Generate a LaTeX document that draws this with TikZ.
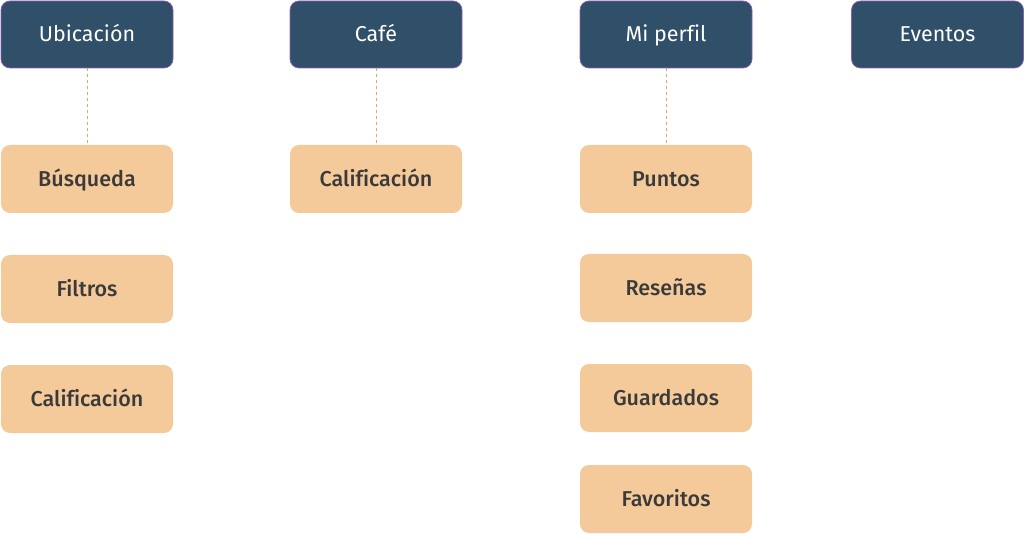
\documentclass[tikz,border=0pt]{standalone}
\usepackage{fontspec}
\setmainfont{Open Sans}
\newfontfamily\subfont{Fira Sans}[UprightFont=* Medium, Ligatures=NoCommon]
\newfontfamily\hdrfont{Fira Sans}[Ligatures=NoCommon]
\definecolor{hdr}{HTML}{304F68}
\definecolor{hdrline}{HTML}{8E5CB8}
\definecolor{org}{HTML}{F4CA9A}
\definecolor{dash}{HTML}{E3A46E}
\definecolor{txt}{HTML}{3A3A3A}
\tikzset{
  boxtext/.style={text height=16.5pt, text depth=1.5pt},
  hdrbox/.style={rectangle, rounded corners=9pt, fill=hdr, draw=hdrline, line width=0.7pt, minimum width=172pt, minimum height=67pt, text=white, inner sep=0pt, boxtext, font=\hdrfont\fontsize{21.5}{25}\selectfont},
  subbox/.style={rectangle, rounded corners=9pt, fill=org, draw=none, minimum width=172pt, minimum height=68pt, text=txt, inner sep=0pt, boxtext, font=\subfont\fontsize{21.5}{25}\selectfont},
  link/.style={draw=dash, dashed, dash pattern=on 3pt off 3pt, line width=0.7pt}
}
\begin{document}
\begin{tikzpicture}[x=1pt,y=-1pt]
\useasboundingbox (0,0) rectangle (1024,534);
\node[hdrbox] (ubi) at (87,34.5) {Ubicación};
\node[hdrbox] (cafe) at (376,34.5) {Café};
\node[hdrbox] (perfil) at (666,34.5) {Mi perfil};
\node[hdrbox] (eventos) at (937.5,34.5) {Eventos};
\node[subbox] (busq) at (87,179) {Búsqueda};
\node[subbox] (filt) at (87,289) {Filtros};
\node[subbox] (cal1) at (87,399) {Calificación};
\node[subbox] (cal2) at (376,179) {Calificación};
\node[subbox] (pts) at (666,179) {Puntos};
\node[subbox] (res) at (666,288) {Reseñas};
\node[subbox] (guar) at (666,398) {Guardados};
\node[subbox] (fav) at (666,499) {Favoritos};
\draw[link] (ubi.south) -- (busq.north);
\draw[link] (cafe.south) -- (cal2.north);
\draw[link] (perfil.south) -- (pts.north);
\end{tikzpicture}
\end{document}
